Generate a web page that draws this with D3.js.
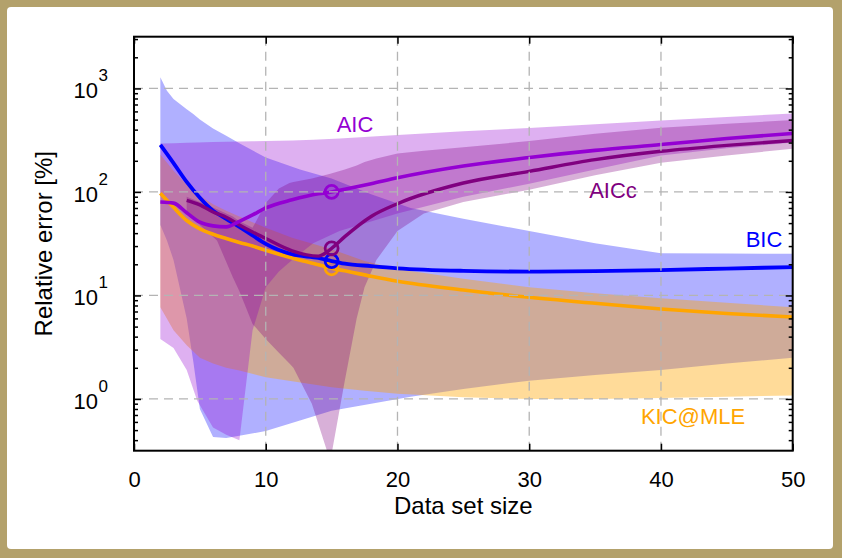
<!DOCTYPE html>
<html>
<head>
<meta charset="utf-8">
<script src="https://cdn.jsdelivr.net/npm/d3@7"></script>
<style>
  html, body { margin: 0; padding: 0; background: #b3a16b; }
  svg { display: block; }
  text { font-family: "Liberation Sans", Arial, sans-serif; }
</style>
</head>
<body>
<svg id="chart" width="842" height="558"></svg>
<script>
// ---- data ----
const n = [2, 3, 4, 5, 6, 7, 8, 9, 10, 12, 14, 15, 16, 18, 20, 25, 30, 35, 40, 45, 50];
const aic  = [80, 78, 63, 51, 47, 46, 52, 60, 70, 84, 96, 100, 106, 120, 137, 178, 215, 252, 287, 328, 368];
const aicc = [null, null, 83, 75, 64, 57, 48, 41, 35.5, 27, 24, 28.5, 37, 58, 77, 122, 158, 205, 247, 282, 314];
const bic  = [285, 190, 125, 88, 66, 55, 46, 38, 31.5, 25, 23, 21.5, 20.3, 19.2, 18.3, 17.3, 17, 17.2, 17.6, 18.2, 18.8];
const kic  = [97, 71, 53, 44, 39, 35.5, 32.5, 30, 27.3, 23, 19.8, 18.3, 17.3, 15.3, 13.7, 11.3, 9.6, 8.4, 7.4, 6.7, 6.2];

const markerN = 15;

// uncertainty bands
const bicBandN = [2, 2.5, 3, 4, 4.5, 5, 6, 7, 8, 10, 12.6, 15, 18, 21, 25, 30, 35, 40, 45, 50];
const bicHigh  = [1280, 950, 790, 630, 565, 500, 410, 350, 295, 215, 165, 135, 95, 70, 55, 42, 32, 25.5, 25.4, 25.3];
const bicLow   = [48, 34, 22, 6, 2.3, 0.8, 0.43, 0.42, 0.44, 0.49, 0.62, 0.77, 0.9, 1.05, 1.25, 1.5, 1.7, 1.9, 2.2, 2.5];

const kicBandN = [2, 3, 4, 5, 6, 7, 8, 10, 12, 15, 17.5, 20, 25, 30, 35, 40, 45, 50];
const kicHigh  = [230, 160, 118, 92, 76, 66, 58, 45, 36, 28, 21.5, 18, 14.5, 12, 10.5, 9.4, 8.5, 7.7];
const kicLow   = [7.7, 4.6, 3.3, 2.5, 2.2, 2.0, 1.88, 1.62, 1.48, 1.3, 1.2, 1.12, 1.04, 1.0, 1.0, 1.02, 1.05, 1.08];

const aicBandN = [2, 3, 4, 4.8, 6, 7, 8, 9, 10, 11, 12, 13.6, 15.6, 20, 25, 30, 35, 40, 45, 50];
const aicHigh  = [294, 296, 298, 300, 303, 305, 307, 309, 310, 312, 315, 320, 328, 355, 385, 415, 450, 490, 530, 574];
const aicLow   = [3.8, 3.1, 1.9, 0.96, 0.53, 0.45, 0.4, 4.6, 12, 17, 22, 32, 42, 62, 90, 120, 165, 225, 265, 300];

const aiccBandN = [4, 5, 6.3, 7.5, 8, 9, 10, 11, 11.8, 12.1, 13.5, 14.9, 16, 16.9, 17.5, 18.4, 20, 22, 25, 30, 35, 40, 45, 50];
const aiccHigh  = [90, 80, 68, 58, 52, 45, 78, 108, 122, 125, 135, 150, 165, 180, 195, 210, 235, 250, 270, 310, 365, 417, 455, 495];
const aiccLow   = [65, 48, 34, 15, 11, 5.3, 3.8, 2.8, 2.2, 2.0, 0.9, 0.25, 1.5, 6, 12, 22, 42, 62, 80, 105, 145, 191, 225, 262];

const xTicks = [0, 10, 20, 30, 40, 50];
const yMajor = [1, 10, 100, 1000];
const yExp = ["0", "1", "2", "3"];

// ---- layout ----
const svg = d3.select("#chart");
const W = 842, H = 558;
const plot = { left: 134, right: 792.7, top: 36.7, bottom: 450.7 };

svg.append("rect")
    .attr("x", 7).attr("y", 7)
    .attr("width", W - 16).attr("height", H - 16)
    .attr("rx", 4)
    .attr("fill", "#fff");

const x = d3.scaleLinear().domain([0, 50]).range([plot.left, plot.right]);
const y = d3.scaleLog().domain([Math.pow(10, -0.5), Math.pow(10, 3.5)]).range([plot.bottom, plot.top]);

svg.append("clipPath").attr("id", "clip")
    .append("rect")
    .attr("x", plot.left).attr("y", plot.top)
    .attr("width", plot.right - plot.left).attr("height", plot.bottom - plot.top);

const g = svg.append("g").attr("clip-path", "url(#clip)");

function drawBand(ns, lo, hi, color, alpha) {
    const rows = ns.map((v, i) => ({ n: v, lo: lo[i], hi: hi[i] }));
    const area = d3.area()
        .x(d => x(d.n))
        .y0(d => y(d.lo))
        .y1(d => y(d.hi));
    g.append("path")
        .datum(rows)
        .attr("d", area)
        .attr("fill", color)
        .attr("fill-opacity", alpha);
}

drawBand(bicBandN, bicLow, bicHigh, "#0000ff", 0.31);
drawBand(kicBandN, kicLow, kicHigh, "#ffa500", 0.4);
drawBand(aicBandN, aicLow, aicHigh, "#9400d3", 0.31);
drawBand(aiccBandN, aiccLow, aiccHigh, "#800080", 0.31);

// grid
const grid = svg.append("g")
    .attr("stroke", "#b4b4b4")
    .attr("stroke-width", 1.3)
    .attr("stroke-dasharray", "9,6");
grid.selectAll("line.v")
    .data(xTicks.slice(1, -1))
    .join("line")
    .attr("class", "v")
    .attr("x1", d => x(d)).attr("x2", d => x(d))
    .attr("y1", plot.top).attr("y2", plot.bottom);
grid.selectAll("line.h")
    .data(yMajor)
    .join("line")
    .attr("class", "h")
    .attr("x1", plot.left).attr("x2", plot.right)
    .attr("y1", d => y(d)).attr("y2", d => y(d));

// lines
const series = [
    { vals: kic, color: "#ffa500", w: 3.6 },
    { vals: bic, color: "#0000ff", w: 3.8 },
    { vals: aicc, color: "#800080", w: 3.4 },
    { vals: aic, color: "#9400d3", w: 3.6 }
];

const line = d3.line()
    .defined(d => d.v != null)
    .x(d => x(d.n))
    .y(d => y(d.v))
    .curve(d3.curveMonotoneX);

series.forEach(s => {
    const rows = n.map((v, i) => ({ n: v, v: s.vals[i] }));
    g.append("path")
        .datum(rows)
        .attr("d", line)
        .attr("fill", "none")
        .attr("stroke", s.color)
        .attr("stroke-width", s.w)
        .attr("stroke-linejoin", "round");
    const mi = n.indexOf(markerN);
    g.append("circle")
        .attr("cx", x(markerN))
        .attr("cy", y(s.vals[mi]))
        .attr("r", 6.5)
        .attr("fill", "none")
        .attr("stroke", s.color)
        .attr("stroke-width", 2.8);
});

// axes (ticks inward on all four sides)
const minor = [];
for (let e = -1; e <= 3; e++) {
    for (let k = 2; k <= 9; k++) {
        const v = k * Math.pow(10, e);
        if (v > y.domain()[0] && v < y.domain()[1]) minor.push(v);
    }
}

function styleAxis(sel) {
    sel.select(".domain").remove();
    sel.selectAll("line").attr("stroke", "#000").attr("stroke-width", 1.5);
}

svg.append("g").attr("transform", `translate(${plot.left},0)`)
    .call(d3.axisLeft(y).tickValues(minor).tickSize(-4).tickFormat(""))
    .call(styleAxis);
svg.append("g").attr("transform", `translate(${plot.left},0)`)
    .call(d3.axisLeft(y).tickValues(yMajor).tickSize(-7).tickFormat(""))
    .call(styleAxis);
svg.append("g").attr("transform", `translate(${plot.right},0)`)
    .call(d3.axisRight(y).tickValues(minor).tickSize(-4).tickFormat(""))
    .call(styleAxis);
svg.append("g").attr("transform", `translate(${plot.right},0)`)
    .call(d3.axisRight(y).tickValues(yMajor).tickSize(-7).tickFormat(""))
    .call(styleAxis);

const xAxis = svg.append("g").attr("transform", `translate(0,${plot.bottom})`)
    .call(d3.axisBottom(x).tickValues(xTicks).tickSize(-7).tickFormat(d3.format("d")))
    .call(styleAxis);
xAxis.selectAll("text")
    .attr("y", 36).attr("dy", null)
    .attr("fill", "#000")
    .style("font-size", "22px");
svg.append("g").attr("transform", `translate(0,${plot.top})`)
    .call(d3.axisTop(x).tickValues(xTicks).tickSize(-7).tickFormat(""))
    .call(styleAxis);

svg.append("rect")
    .attr("x", plot.left).attr("y", plot.top)
    .attr("width", plot.right - plot.left).attr("height", plot.bottom - plot.top)
    .attr("fill", "none")
    .attr("stroke", "#000")
    .attr("stroke-width", 2);

// y tick labels 10^k
const yl = svg.append("g");
yMajor.forEach((v, i) => {
    yl.append("text")
        .attr("x", 98).attr("y", y(v) + 9.6)
        .attr("text-anchor", "end")
        .style("font-size", "22px")
        .text("10");
    yl.append("text")
        .attr("x", 98.5).attr("y", y(v) - 7)
        .style("font-size", "17px")
        .text(yExp[i]);
});

// axis titles
svg.append("text")
    .attr("x", (plot.left + plot.right) / 2).attr("y", 514)
    .attr("text-anchor", "middle")
    .style("font-size", "24px")
    .text("Data set size");
svg.append("text")
    .attr("transform", `translate(52,${(plot.top + plot.bottom) / 2}) rotate(-90)`)
    .attr("text-anchor", "middle")
    .style("font-size", "24px")
    .text("Relative error [%]");

// series labels
const labels = [
    { t: "AIC", x: 355, y: 131.5, c: "#9400d3" },
    { t: "AICc", x: 613, y: 198, c: "#800080" },
    { t: "BIC", x: 764, y: 246.5, c: "#0000ff" },
    { t: "KIC@MLE", x: 693, y: 423.5, c: "#ffa500" }
];
svg.selectAll("text.lab")
    .data(labels)
    .join("text")
    .attr("class", "lab")
    .attr("x", d => d.x).attr("y", d => d.y)
    .attr("text-anchor", "middle")
    .attr("fill", d => d.c)
    .style("font-size", "22px")
    .text(d => d.t);
</script>
</body>
</html>
